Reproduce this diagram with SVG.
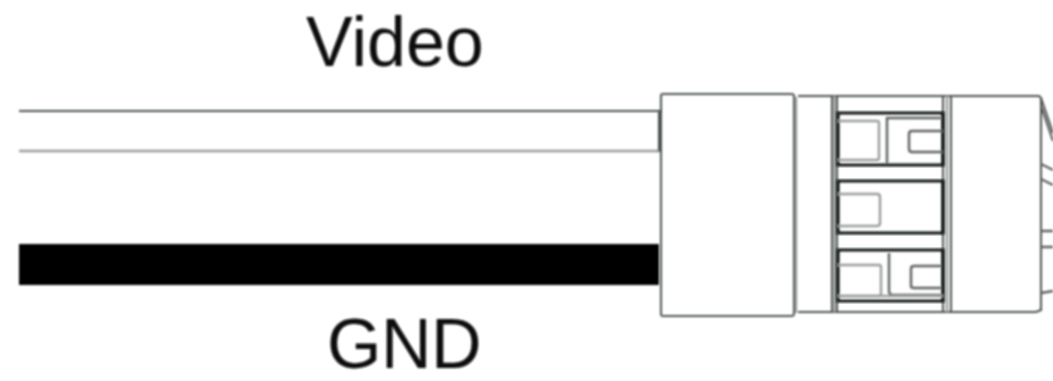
<svg xmlns="http://www.w3.org/2000/svg" width="1053" height="381" viewBox="0 0 1053 381">
<defs><filter id="soft" x="-5%" y="-5%" width="110%" height="110%"><feGaussianBlur stdDeviation="0.8"/></filter></defs>
<style>
.t{font-family:"Liberation Sans",Arial,sans-serif;font-size:70px;fill:#0a0a0a}
.g{fill:none;stroke:#4c5150;stroke-width:2}
.l{fill:none;stroke:#989c9a;stroke-width:2.4}
.d{fill:none;stroke:#0c1311;stroke-width:3}
.m{fill:none;stroke:#5c6160;stroke-width:2.4}
</style>
<rect width="1053" height="381" fill="#fff"/>
<g id="connectors" filter="url(#soft)">
<path class="g" d="M19 111H661"/>
<path class="l" d="M19 151H661"/>
<rect x="19" y="244" width="640" height="41" fill="#000"/>
</g>
<g id="label-video" filter="url(#soft)"><text class="t" x="306" y="66">Video</text></g>
<g id="label-gnd" filter="url(#soft)"><text class="t" x="327" y="368" letter-spacing="-0.5">GND</text></g>
<g id="connector-body" filter="url(#soft)">
<path class="g" d="M661 96Q661 94 663 94H791Q794 94 794 96V314Q794 316 791 316H663Q661 316 661 314Z"/>
<path class="g" d="M659 111V151"/>
<path class="l" d="M796 97V313"/>
<path class="g" d="M798 96H1039L1041 98M798 312H1036L1041 310"/>
<path class="g" d="M832 96V312M837 96V312"/>
<path class="l" d="M834.500 96V312"/>
<path class="g" d="M943 96V312M951 96V312"/>
<path class="l" d="M947 96V312"/>
<path class="g" d="M1041 97V311"/>
<path class="g" d="M1041 98L1053 133M1041 106L1053 141"/>
<path class="m" d="M1041 164L1053 170M1041 179L1053 185M1041 231H1053M1041 247H1053M1041 293L1053 291"/>
</g>
<g id="slot-top" filter="url(#soft)">
<rect class="d" x="838" y="113" width="105" height="52"/>
<path class="l" d="M838 121H877Q879 121 879 123V158Q879 160 877 160H838"/>
<path class="m" d="M887 163V118H941"/>
<path class="m" d="M943 131H912Q909 131 909 134V149Q909 152 912 152H943"/>
</g>
<g id="slot-middle" filter="url(#soft)">
<rect class="d" x="838" y="181" width="105" height="52"/>
<path class="l" d="M838 194H877Q880 194 880 197V223Q880 226 877 226H838"/>
</g>
<g id="slot-bottom" filter="url(#soft)">
<rect class="d" x="838" y="250" width="105" height="51"/>
<path class="l" d="M838 265H879Q881 265 881 267V294Q881 296 879 296H838"/>
<path class="m" d="M889 253V291Q889 295 893 295H941"/>
<path class="m" d="M941 266H914Q911 266 911 269V286Q911 288 914 288H941"/>
<path class="l" d="M838 296H943"/>
</g>
</svg>
